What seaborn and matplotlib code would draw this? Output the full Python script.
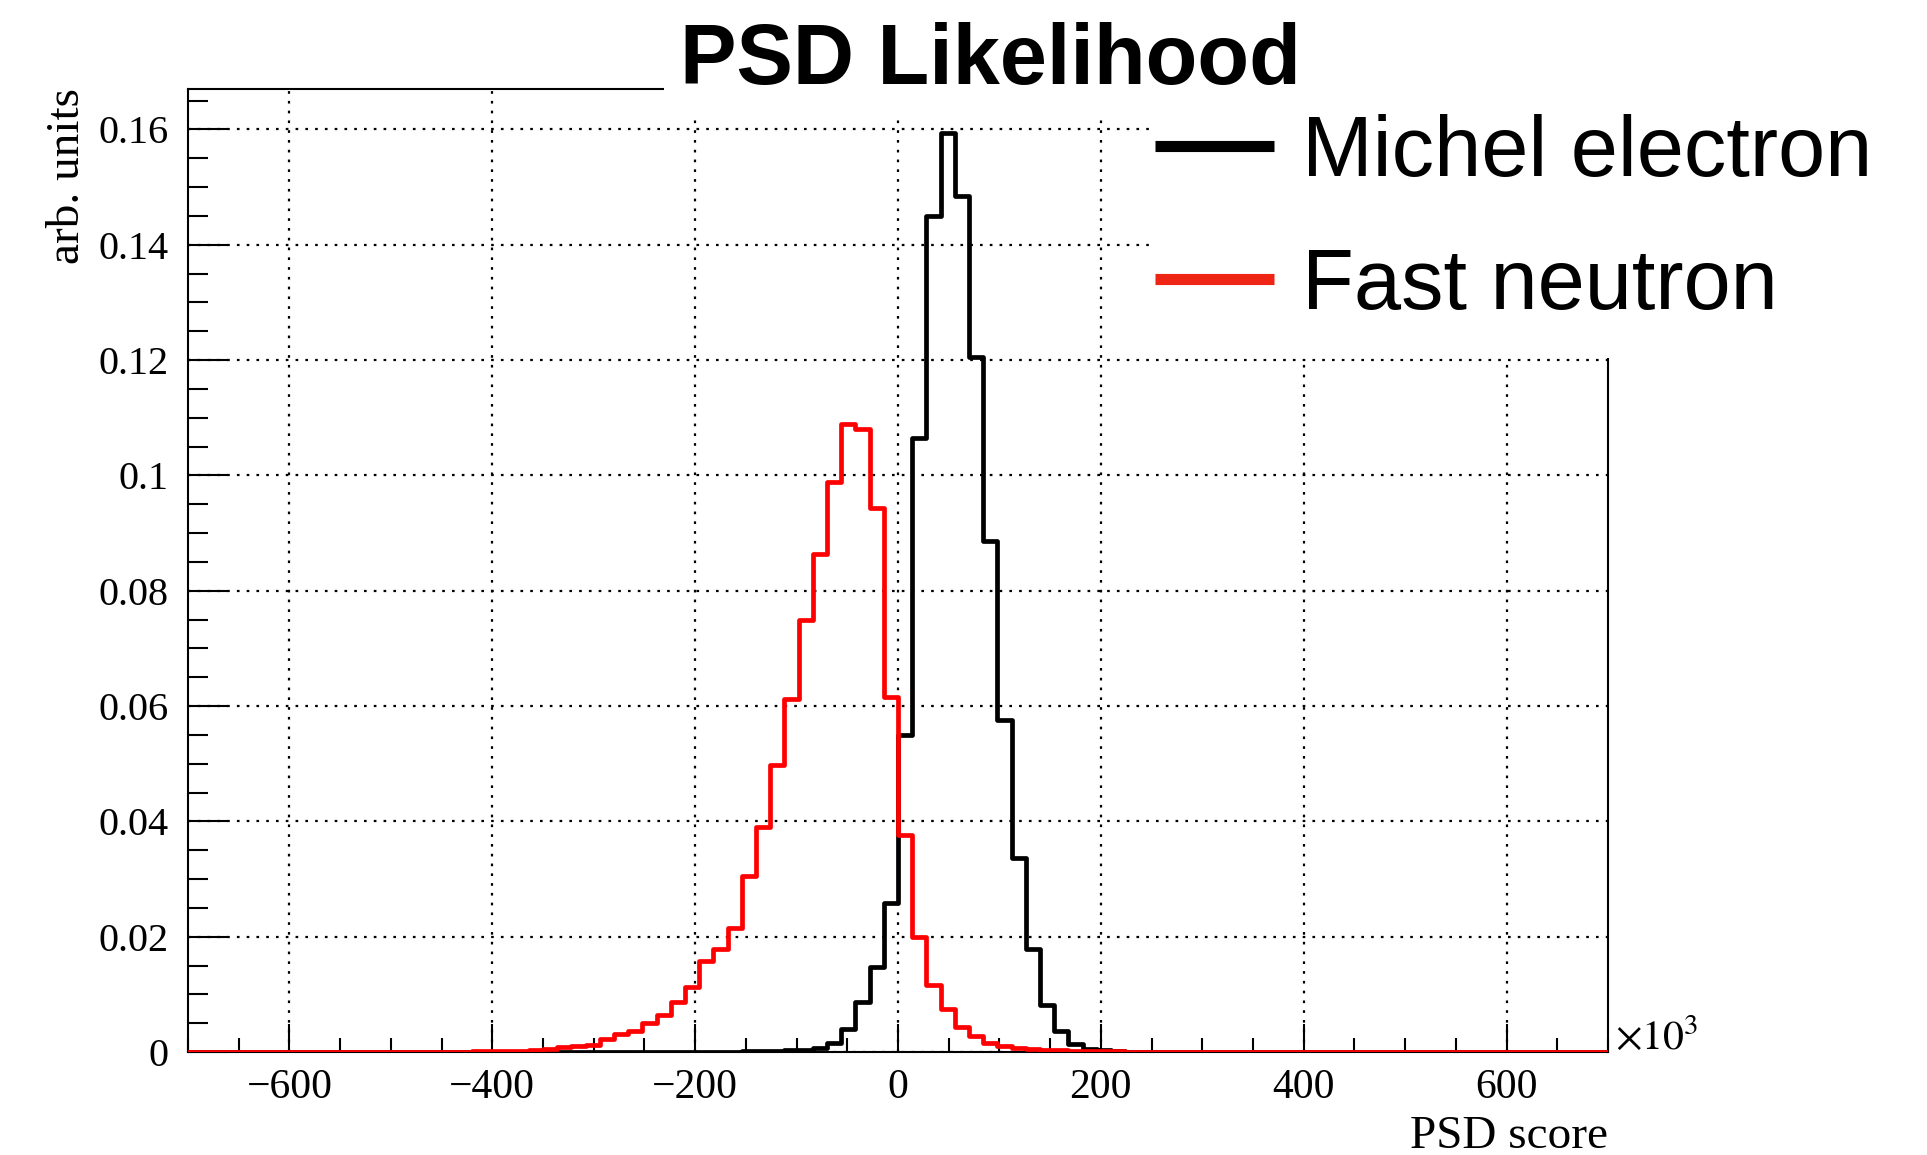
import numpy as np
import pandas as pd
import seaborn as sns
import matplotlib
matplotlib.use("Agg")
import matplotlib.pyplot as plt
from matplotlib.lines import Line2D
from matplotlib.patches import Rectangle
from matplotlib.ticker import MultipleLocator, FuncFormatter

# Binning of the PSD score (in units of 10^3): 100 bins of width 14 from -700 to 700
x_min, x_max, bin_width = -700, 700, 14

# Michel electron histogram, normalised, starting at the bin whose left edge is -210
michel_first_edge = -210
michel_values = [
    0.00002, 0.00003, 0.00004, 0.00006, 0.0001, 0.00013, 0.0002, 0.0003,
    0.0004, 0.0007, 0.0016, 0.0040, 0.0086, 0.0148, 0.0258, 0.0550,
    0.1065, 0.1450, 0.1593, 0.1485, 0.1205, 0.0886, 0.0575, 0.0337,
    0.0178, 0.0082, 0.0036, 0.0014, 0.0006, 0.0003, 0.0001, 0.00005,
]

# Fast neutron histogram, normalised, starting at the bin whose left edge is -434
neutron_first_edge = -434
neutron_values = [
    0.00005, 0.0001, 0.0001, 0.00015, 0.0002, 0.0003, 0.0005, 0.0008,
    0.0011, 0.0013, 0.0022, 0.0031, 0.0036, 0.0050, 0.0064, 0.0086,
    0.0112, 0.0158, 0.0178, 0.0215, 0.0306, 0.0391, 0.0498, 0.0612,
    0.0750, 0.0864, 0.0989, 0.1090, 0.1081, 0.0943, 0.0616, 0.0377,
    0.0200, 0.0116, 0.0074, 0.0044, 0.0027, 0.0015, 0.0010, 0.0007,
    0.0005, 0.0004, 0.0003, 0.0002, 0.00015, 0.0001, 0.0001, 0.00005,
    0.00005,
]

series_labels = ["Michel electron", "Fast neutron"]
series_colors = ["#000000", "#FF0000"]
legend_colors = ["#000000", "#EE2415"]

x_ticks = [-600, -400, -200, 0, 200, 400, 600]
y_ticks = [0, 0.02, 0.04, 0.06, 0.08, 0.1, 0.12, 0.14, 0.16]

n_bins = int((x_max - x_min) / bin_width)
centers = x_min + bin_width * (np.arange(n_bins) + 0.5)


def full_histogram(first_edge, values):
    contents = np.zeros(n_bins)
    start = int((first_edge - x_min) // bin_width)
    contents[start:start + len(values)] = values
    return contents


frames = []
for label, first, vals in [
    (series_labels[0], michel_first_edge, michel_values),
    (series_labels[1], neutron_first_edge, neutron_values),
]:
    frames.append(pd.DataFrame({
        "score": centers,
        "content": full_histogram(first, vals),
        "sample": label,
    }))
df = pd.concat(frames, ignore_index=True)

sns.set_style("white")
plt.rcParams["font.family"] = ["Liberation Serif", "DejaVu Serif"]
plt.rcParams["mathtext.fontset"] = "stix"
plt.rcParams["axes.unicode_minus"] = True
for key in ["text.color", "axes.labelcolor", "xtick.color", "ytick.color",
            "xtick.labelcolor", "ytick.labelcolor"]:
    plt.rcParams[key] = "black"

W, H = 1927, 1155
fig = plt.figure(figsize=(W / 100, H / 100), dpi=100)
ax = fig.add_axes([188 / W, 1 - 1052 / H, 1420 / W, 963.5 / H])

# black first, red drawn on top
for label, color in zip(series_labels, series_colors):
    sns.histplot(
        data=df[df["sample"] == label], x="score", weights="content",
        binwidth=bin_width, binrange=(x_min, x_max),
        element="step", fill=False, color=color,
        linewidth=3.4, ax=ax, zorder=3,
    )

ax.set_xlim(x_min, x_max)
ax.set_ylim(0, 0.1671)

ax.set_xticks(x_ticks)
ax.set_yticks(y_ticks)
ax.xaxis.set_minor_locator(MultipleLocator(50))
ax.yaxis.set_minor_locator(MultipleLocator(0.005))
ax.yaxis.set_major_formatter(FuncFormatter(lambda v, p: "%g" % v))
ax.xaxis.set_major_formatter(FuncFormatter(lambda v, p: ("%g" % v).replace("-", "\u2212")))

ax.tick_params(axis="both", which="both", direction="in", colors="black",
               width=1.5, bottom=True, left=True, top=False, right=False,
               labelsize=30)
ax.tick_params(axis="y", which="both", labelsize=29)
ax.tick_params(axis="x", which="major", length=20, pad=12)
ax.tick_params(axis="x", which="minor", length=10)
ax.tick_params(axis="y", which="major", length=29, pad=14)
ax.tick_params(axis="y", which="minor", length=14.5)

for side in ["left", "right", "top", "bottom"]:
    ax.spines[side].set_visible(True)
    ax.spines[side].set_color("black")
    ax.spines[side].set_linewidth(1.5)

ax.set_axisbelow(True)
ax.grid(True, which="major", color="black", linewidth=1.6,
        linestyle=(0, (1.2, 3.2)))

ax.set_xlabel("PSD score", fontsize=34, loc="right")
ax.xaxis.set_label_coords(1.0, -0.066)
ax.set_ylabel("arb. units", fontsize=34, loc="top")
ax.yaxis.set_label_coords(-0.070, 1.0)

ax.text(1.005, 0.003, r"$\times10^{3}$", transform=ax.transAxes,
        fontsize=30, ha="left", va="baseline")

# white boxes for the title pad and the legend pad
fig.add_artist(Rectangle((664 / W, 1 - 116 / H), (1320 - 664) / W, 116 / H,
                         transform=fig.transFigure, facecolor="white",
                         edgecolor="none", zorder=1))
fig.add_artist(Rectangle((1150 / W, 1 - 358 / H), (W - 1150) / W, 358 / H,
                         transform=fig.transFigure, facecolor="white",
                         edgecolor="none", zorder=1))

fig.text(990 / W, 1 - 84 / H, "PSD Likelihood", ha="center", va="baseline",
         fontsize=61, fontweight="bold", family="Liberation Sans",
         color="black", zorder=4)

handles = [Line2D([0], [0], color=c, linewidth=8, solid_capstyle="butt")
           for c in legend_colors]
leg = fig.legend(handles, series_labels, loc="upper left",
                 bbox_to_anchor=(1155 / W, 1 - 114 / H),
                 frameon=False, borderpad=0, borderaxespad=0,
                 handlelength=1.4, handletextpad=0.33, labelspacing=0.62,
                 prop={"family": "Liberation Sans", "size": 61})
for t in leg.get_texts():
    t.set_color("black")
leg.set_zorder(5)

fig.savefig("out.png", dpi=100)
